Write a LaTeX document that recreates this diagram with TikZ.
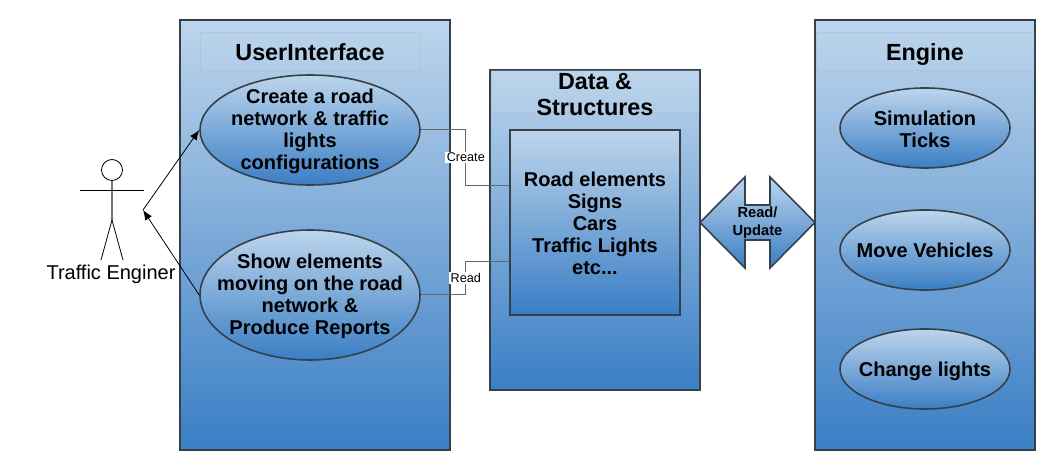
\documentclass[tikz,border=0pt]{standalone}
\usepackage{fontspec}
\setmainfont{Liberation Sans}
\usetikzlibrary{shapes.geometric,arrows.meta}
\definecolor{lightblue}{HTML}{BDD5EC}
\definecolor{deepblue}{HTML}{3A7EC5}
\definecolor{edgegrey}{HTML}{36404A}
\tikzset{
	bluebox/.style={rectangle,draw=edgegrey,line width=1.5pt,top color=lightblue,bottom color=deepblue,inner sep=0pt},
	usecase/.style={ellipse,draw=edgegrey,line width=1.2pt,top color=lightblue,bottom color=deepblue,inner sep=0pt},
	bodytext/.style={inner sep=0pt,align=center,font=\fontsize{15}{16.5}\selectfont\bfseries},
	headbox/.style={rectangle,draw=black!30!lightblue,draw opacity=0.15,line width=0.5pt,fill=lightblue,fill opacity=0.2,inner sep=0pt},
	headtext/.style={inner sep=0pt,align=center,font=\fontsize{17.5}{19.5}\selectfont\bfseries},
	wire/.style={draw=black!60,line width=0.75pt},
	wirelabel/.style={fill=white,inner sep=1pt,font=\fontsize{9.5}{11}\selectfont},
	actorarrow/.style={-{Latex[length=7.5pt,width=6pt]},line width=0.6pt},
}
\begin{document}
\begin{tikzpicture}[x=0.75pt,y=-0.75pt]
	\useasboundingbox (0,0) rectangle (1058,470);

	% the three big boxes
	\node (ui) [bluebox,minimum width=202.5pt,minimum height=322.5pt] at (315,235) {};
	\node (data) [bluebox,minimum width=157.5pt,minimum height=240pt] at (595,230) {};
	\node (engine) [bluebox,minimum width=165pt,minimum height=322.5pt] at (925,235) {};

	% headers
	\node (uihead) [headbox,minimum width=165pt,minimum height=28.5pt] at (310,51) {};
	\node (datahead) [headbox,minimum width=156pt,minimum height=31.5pt] at (595,91) {};
	\node (enginehead) [headbox,minimum width=163.5pt,minimum height=28.5pt] at (925,51) {};
	\node (uititle) [headtext] at (310,52) {UserInterface};
	\node (datatitle) [headtext] at (595,94.5) {Data \&\\Structures};
	\node (enginetitle) [headtext] at (925,55) {Engine};

	\node (inner) [bluebox,minimum width=127.5pt,minimum height=138.75pt] at (595,222.5) {};
	\node (innertext) [bodytext] at (595,223.5) {Road elements\\Signs\\Cars\\Traffic Lights\\etc...};

	% use cases
	\node (create) [usecase,minimum width=165pt,minimum height=82.5pt] at (310,130) {};
	\node (show) [usecase,minimum width=165pt,minimum height=97.5pt] at (310,295) {};
	\node (ticks) [usecase,minimum width=127.5pt,minimum height=60pt] at (925,128) {};
	\node (move) [usecase,minimum width=127.5pt,minimum height=60pt] at (925,250) {};
	\node (lights) [usecase,minimum width=127.5pt,minimum height=60pt] at (925,369) {};
	\node (createtext) [bodytext] at (310,131.5) {Create a road\\network \& traffic\\lights\\configurations};
	\node (showtext) [bodytext] at (310,296.5) {Show elements\\moving on the road\\network \&\\Produce Reports};
	\node (tickstext) [bodytext] at (925,129) {Simulation\\Ticks};
	\node (movetext) [bodytext] at (925,250) {Move Vehicles};
	\node (lightstext) [bodytext] at (925,371) {Change lights};

	% read and update arrow
	\draw [draw=edgegrey,line width=1.2pt,top color=lightblue,bottom color=deepblue] (700,222.5) -- (745,177) -- (745,205) -- (770,205) -- (770,177) -- (815,222.5) -- (770,268) -- (770,240) -- (745,240) -- (745,268) -- cycle;
	\node (rwtext) [align=center,font=\fontsize{11}{13.5}\selectfont\bfseries] at (757.5,223) {Read/\\Update};

	% stick figure
	\node (head) [circle,draw,line width=0.6pt,minimum size=15.75pt,inner sep=0pt] at (112,170) {};
	\coordinate (hip) at (112,220);
	\coordinate (armL) at (80,190);
	\coordinate (armR) at (144,190);
	\coordinate (footL) at (101,260);
	\coordinate (footR) at (123,260);
	\coordinate (actor) at (143,210);
	\draw [black!55,line width=1pt] (head.south) -- (hip);
	\draw [line width=0.6pt] (armL) -- (armR);
	\draw [line width=0.6pt] (footL) -- (hip) -- (footR);
	\node (actorname) [font=\fontsize{15}{17}\selectfont] at (111,274.5) {Traffic Enginer};

	\draw [actorarrow] (actor) -- (create.west);
	\draw [actorarrow] (show.west) -- (actor);

	% links to the data box
	\draw [wire] (create.east) -- ++(45,0) |- ([yshift=28.1pt]inner.west) node [pos=0.25,wirelabel,text=black] {Create};
	\draw [wire] (show.east) -- ++(45,0) |- ([yshift=-28.9pt]inner.west) node [pos=0.25,wirelabel,text=black] {Read};
\end{tikzpicture}
\end{document}
